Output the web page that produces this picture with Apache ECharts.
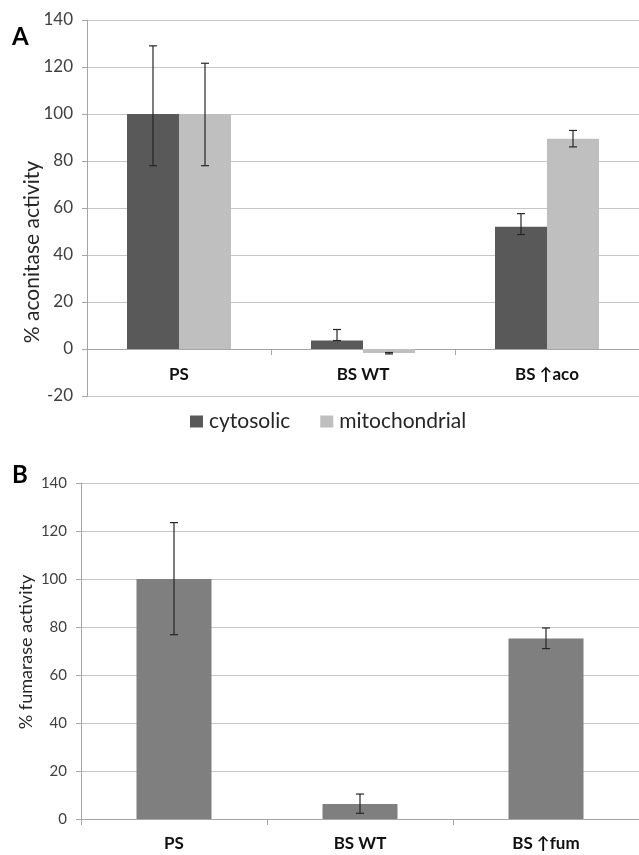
<!DOCTYPE html>
<html><head><meta charset="utf-8">
<script src="https://cdn.jsdelivr.net/npm/echarts@6/dist/echarts.min.js"></script>
<style>html,body{margin:0;padding:0;background:#fff}#c{width:639px;height:855px}</style>
</head><body><div id="c"></div>
<script>
// ---- Panel A data ----
const categoriesA = ['PS', 'BS WT', 'BS ↑aco'];
const cytosolic = [100, 3.6, 52];
const cytosolicLow = [78, 3.6, 48.7];
const cytosolicHigh = [129, 8.3, 57.6];
const mitochondrial = [100, -1.7, 89.5];
const mitochondrialLow = [78, -2.1, 86];
const mitochondrialHigh = [121.6, -1.5, 93];
// ---- Panel B data ----
const categoriesB = ['PS', 'BS WT', 'BS ↑fum'];
const fumarase = [100, 6.2, 75.2];
const fumaraseLow = [76.8, 2.4, 71];
const fumaraseHigh = [123.5, 10.4, 79.6];
// ---- axis ticks ----
const yTicksA = { min: -20, max: 140, interval: 20 };
const yTicksB = { min: 0, max: 140, interval: 20 };

const FONT = 'Lato, "Open Sans", sans-serif';
const AXIS = '#a6a6a6';
const GRID = '#c6c6c6';

function errData(low, high) { return low.map((l, i) => [i, l, high[i]]); }
function errorRenderer(offset) {
  return function (params, api) {
    const i = api.value(0);
    const pLow = api.coord([i, api.value(1)]);
    const pHigh = api.coord([i, api.value(2)]);
    const x = pLow[0] + offset;
    const cap = 4;
    const style = { stroke: '#262626', lineWidth: 1.2 };
    return { type: 'group', children: [
      { type: 'line', shape: { x1: x, y1: pLow[1], x2: x, y2: pHigh[1] }, style },
      { type: 'line', shape: { x1: x - cap, y1: pLow[1], x2: x + cap, y2: pLow[1] }, style },
      { type: 'line', shape: { x1: x - cap, y1: pHigh[1], x2: x + cap, y2: pHigh[1] }, style }
    ] };
  };
}

function yAxisCfg(idx, t, fs) {
  return {
    gridIndex: idx, type: 'value', min: t.min, max: t.max, interval: t.interval,
    axisLine: { show: true, lineStyle: { color: AXIS, width: 1 } },
    axisTick: { show: true, length: 5, lineStyle: { color: AXIS } },
    splitLine: { show: true, lineStyle: { color: GRID, width: 1 } },
    axisLabel: { fontSize: fs, color: '#404040', margin: 14, fontFamily: FONT }
  };
}
function xAxisCfg(idx, cats, margin) {
  return {
    gridIndex: idx, type: 'category', data: cats,
    axisLine: { show: true, onZero: true, lineStyle: { color: AXIS, width: 1 } },
    axisTick: { show: true, length: 6, lineStyle: { color: AXIS } },
    axisLabel: { fontSize: 17, fontWeight: 'bold', color: '#111', margin: margin, fontFamily: FONT },
    splitLine: { show: false }
  };
}

const chart = echarts.init(document.getElementById('c'), null, { renderer: 'canvas' });
chart.setOption({
  animation: false,
  backgroundColor: '#fff',
  textStyle: { fontFamily: FONT },
  grid: [
    { left: 87, top: 20, width: 559, height: 376 },
    { left: 81, top: 483, width: 564, height: 336 }
  ],
  xAxis: [xAxisCfg(0, categoriesA, -30), xAxisCfg(1, categoriesB, 16)],
  yAxis: [yAxisCfg(0, yTicksA, 17), yAxisCfg(1, yTicksB, 15)],
  legend: {
    data: ['cytosolic', 'mitochondrial'], left: 190, top: 411, padding: 0,
    icon: 'rect', itemWidth: 13, itemHeight: 12, itemGap: 30,
    textStyle: { fontSize: 21, color: '#262626', fontFamily: FONT, padding: [0, 0, 0, 1] }
  },
  graphic: [
    { type: 'text', left: 12, top: 25, style: { text: 'A', font: 'bold 24px ' + FONT, fill: '#000' } },
    { type: 'text', left: 12, top: 463, style: { text: 'B', font: 'bold 24px ' + FONT, fill: '#000' } },
    { type: 'text', x: 32, y: 252, rotation: Math.PI / 2,
      style: { text: '% aconitase activity', font: '21px ' + FONT, fill: '#262626', align: 'center', verticalAlign: 'middle' } },
    { type: 'text', x: 26, y: 652, rotation: Math.PI / 2,
      style: { text: '% fumarase activity', font: '18px ' + FONT, fill: '#262626', align: 'center', verticalAlign: 'middle' } }
  ],
  series: [
    { name: 'cytosolic', type: 'bar', xAxisIndex: 0, yAxisIndex: 0, data: cytosolic,
      barWidth: 52, barGap: '0%', itemStyle: { color: '#595959' } },
    { name: 'mitochondrial', type: 'bar', xAxisIndex: 0, yAxisIndex: 0, data: mitochondrial,
      barWidth: 52, barGap: '0%', itemStyle: { color: '#bfbfbf' } },
    { type: 'custom', xAxisIndex: 0, yAxisIndex: 0, data: errData(cytosolicLow, cytosolicHigh),
      renderItem: errorRenderer(-26), encode: { x: 0, y: [1, 2] }, z: 10 },
    { type: 'custom', xAxisIndex: 0, yAxisIndex: 0, data: errData(mitochondrialLow, mitochondrialHigh),
      renderItem: errorRenderer(26), encode: { x: 0, y: [1, 2] }, z: 10 },
    { name: 'fumarase', type: 'bar', xAxisIndex: 1, yAxisIndex: 1, data: fumarase,
      barWidth: 75, itemStyle: { color: '#7f7f7f' } },
    { type: 'custom', xAxisIndex: 1, yAxisIndex: 1, data: errData(fumaraseLow, fumaraseHigh),
      renderItem: errorRenderer(0), encode: { x: 0, y: [1, 2] }, z: 10 }
  ]
});
</script></body></html>
